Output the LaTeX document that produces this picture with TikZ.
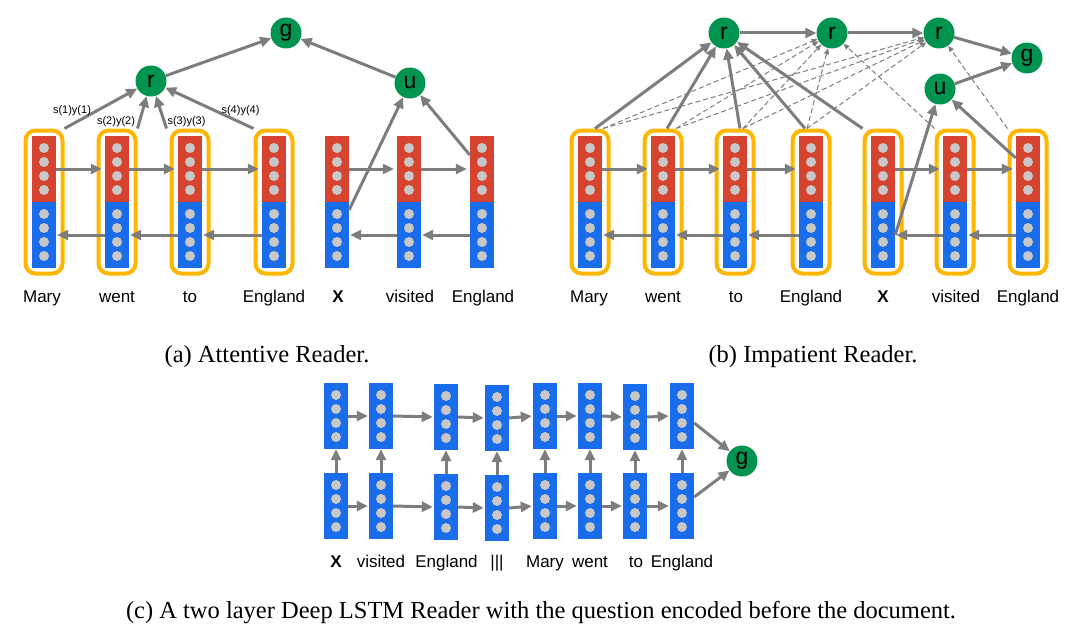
\documentclass[tikz,border=0pt]{standalone}
\usepackage{fontspec}
\setmainfont{Liberation Serif}
\newfontfamily\lsans{Liberation Sans}
\usetikzlibrary{arrows.meta}
\definecolor{colred}{RGB}{214,68,48}
\definecolor{colblue}{RGB}{25,108,234}
\definecolor{colgreen}{RGB}{0,148,80}
\definecolor{colyel}{RGB}{255,182,0}
\definecolor{colarr}{RGB}{125,125,125}
\definecolor{coldot}{RGB}{200,200,200}
\newcommand{\halfcol}[4]{%
  \node[#4] (#1) at (#2,#3) {};
  \foreach \ddy in {-21,-7,7,21}{\fill[coldot] (#2,#3+\ddy) circle[radius=5];}}
\newcommand{\fullcol}[3]{%
  \halfcol{#1r}{#2}{#3-33}{redpart}%
  \halfcol{#1b}{#2}{#3+33}{bluepart}}
\tikzset{
  redpart/.style={rectangle, fill=colred, minimum width=24, minimum height=66, inner sep=0, draw=none},
  bluepart/.style={rectangle, fill=colblue, minimum width=24, minimum height=66, inner sep=0, draw=none},
  ybox/.style={rectangle, draw=colyel, line width=4pt, rounded corners=10pt, minimum width=37, minimum height=143, inner sep=0},
  gnode/.style={circle, fill=colgreen, minimum size=31, inner sep=0, font=\lsans\fontsize{23}{23}\selectfont},
  arr/.style={draw=colarr, line width=3pt, -{Triangle[length=11pt,width=10pt]}},
  dsh/.style={draw=colarr, line width=1pt, dash pattern=on 5pt off 3pt, -{Triangle[length=6pt,width=5pt]}},
  lbl/.style={anchor=base, inner sep=0, font=\lsans\fontsize{17}{20}\selectfont},
  blbl/.style={anchor=base, inner sep=0, font=\lsans\bfseries\fontsize{17}{20}\selectfont},
  slbl/.style={anchor=base, inner sep=0, font=\lsans\fontsize{11}{13}\selectfont},
  captxt/.style={anchor=base, inner sep=0, font=\fontsize{24.5}{28}\selectfont}
}
\begin{document}
\begin{tikzpicture}[x=1pt,y=-1pt]
\useasboundingbox (0,0) rectangle (1083,626);
% ================= panel (a)
\node[ybox] (ya1) at (44,202) {};
\node[ybox] (ya2) at (117,202) {};
\node[ybox] (ya3) at (190,202) {};
\node[ybox] (ya4) at (274,202) {};
\fullcol{a1}{44}{202}
\fullcol{a2}{117}{202}
\fullcol{a3}{190}{202}
\fullcol{a4}{274}{202}
\fullcol{qa1}{337}{202}
\fullcol{qa2}{409}{202}
\fullcol{qa3}{482}{202}
\draw[arr, shorten >=3pt] (a1r.east) -- (a2r.west);
\draw[arr, shorten >=3pt] (a2r.east) -- (a3r.west);
\draw[arr, shorten >=3pt] (a3r.east) -- (a4r.west);
\draw[arr, shorten >=1pt] (a2b.west) -- (a1b.east);
\draw[arr, shorten >=1pt] (a3b.west) -- (a2b.east);
\draw[arr, shorten >=1pt] (a4b.west) -- (a3b.east);
\draw[arr, shorten >=3pt] (qa1r.east) -- (qa2r.west);
\draw[arr, shorten >=3pt] (qa2r.east) -- (qa3r.west);
\draw[arr, shorten >=1pt] (qa2b.west) -- (qa1b.east);
\draw[arr, shorten >=1pt] (qa3b.west) -- (qa2b.east);
\node[gnode] (ra) at (151,81) {r};
\node[gnode] (ga) at (286,33) {g};
\node[gnode] (ua) at (410,83) {u};
\draw[arr] (ra) -- (ga);
\draw[arr] (ua) -- (ga);
\draw[arr] (ya1.north east) -- (ra);
\draw[arr] (ya2.north east) -- (ra);
\draw[arr] ([xshift=-3pt]ya3.north west) -- (ra);
\draw[arr] (ya4.north west) -- (ra);
\draw[arr] ([yshift=-8pt]qa1b.north east) -- (ua);
\draw[arr] ([yshift=14pt]qa3r.west) -- (ua);
\node[slbl] (s1) at (72,113) {s(1)y(1)};
\node[slbl] (s2) at (116,124) {s(2)y(2)};
\node[slbl] (s3) at (186.5,124) {s(3)y(3)};
\node[slbl] (s4) at (240.5,113) {s(4)y(4)};
\node[lbl] (la1) at (42,302) {Mary};
\node[lbl] (la2) at (117,302) {went};
\node[lbl] (la3) at (190,302) {to};
\node[lbl] (la4) at (274,302) {England};
\node[blbl] (la5) at (338,302) {X};
\node[lbl] (la6) at (410,302) {visited};
\node[lbl] (la7) at (483,302) {England};
% ================= panel (b)
\node[ybox] (yb1) at (590,202) {};
\node[ybox] (yb2) at (663,202) {};
\node[ybox] (yb3) at (735,202) {};
\node[ybox] (yb4) at (811,202) {};
\node[ybox] (yb5) at (883,202) {};
\node[ybox] (yb6) at (955,202) {};
\node[ybox] (yb7) at (1028,202) {};
\fullcol{b1}{590}{202}
\fullcol{b2}{663}{202}
\fullcol{b3}{735}{202}
\fullcol{b4}{811}{202}
\fullcol{b5}{883}{202}
\fullcol{b6}{955}{202}
\fullcol{b7}{1028}{202}
\draw[arr, shorten >=3pt] (b1r.east) -- (b2r.west);
\draw[arr, shorten >=3pt] (b2r.east) -- (b3r.west);
\draw[arr, shorten >=3pt] (b3r.east) -- (b4r.west);
\draw[arr, shorten >=3pt] (b5r.east) -- (b6r.west);
\draw[arr, shorten >=3pt] (b6r.east) -- (b7r.west);
\draw[arr, shorten >=1pt] (b2b.west) -- (b1b.east);
\draw[arr, shorten >=1pt] (b3b.west) -- (b2b.east);
\draw[arr, shorten >=1pt] (b4b.west) -- (b3b.east);
\draw[arr, shorten >=1pt] (b6b.west) -- (b5b.east);
\draw[arr, shorten >=1pt] (b7b.west) -- (b6b.east);
\node[gnode] (r1) at (724,33) {r};
\node[gnode] (r2) at (832,33) {r};
\node[gnode] (r3) at (939,33) {r};
\node[gnode] (gb) at (1027,58) {g};
\node[gnode] (ub) at (940,89) {u};
% dashed attention
\draw[dsh] ([xshift=13pt]yb1.north) -- (r2);
\draw[dsh] ([xshift=13pt]yb2.north) -- (r2);
\draw[dsh] ([xshift=8pt]yb3.north) -- (r2);
\draw[dsh] ([xshift=-4pt]yb4.north) -- (r2);
\draw[dsh] (yb6.north west) -- (r2);
\draw[dsh] ([xshift=13pt]yb1.north) -- (r3);
\draw[dsh] ([xshift=13pt]yb2.north) -- (r3);
\draw[dsh] ([xshift=8pt]yb3.north) -- (r3);
\draw[dsh] ([xshift=-4pt]yb4.north) -- (r3);
\draw[dsh] (yb7.north west) -- (r3);
% solid
\draw[arr] (r1) -- (r2);
\draw[arr] (r2) -- (r3);
\draw[arr] (r3) -- (gb);
\draw[arr] (ub) -- (gb);
\draw[arr] ([xshift=5pt]yb1.north) -- (r1);
\draw[arr] ([xshift=4pt]yb2.north) -- (r1);
\draw[arr] ([xshift=5pt]yb3.north) -- (r1);
\draw[arr] ([xshift=-6pt]yb4.north) -- (r1);
\draw[arr] (yb5.north west) -- (r1);
\draw[arr] (b5b.east) -- (ub);
\draw[arr] ([yshift=11pt]b7r.west) -- (ub);
\node[lbl] (lb1) at (589,302) {Mary};
\node[lbl] (lb2) at (663,302) {went};
\node[lbl] (lb3) at (736,302) {to};
\node[lbl] (lb4) at (811,302) {England};
\node[blbl] (lb5) at (883,302) {X};
\node[lbl] (lb6) at (956,302) {visited};
\node[lbl] (lb7) at (1028,302) {England};
% ================= panel (c)
\halfcol{c1t}{336}{416}{bluepart}
\halfcol{c1b}{336}{506}{bluepart}
\halfcol{c2t}{381}{416}{bluepart}
\halfcol{c2b}{381}{506}{bluepart}
\halfcol{c3t}{446}{417}{bluepart}
\halfcol{c3b}{446}{507}{bluepart}
\halfcol{c4t}{497}{418}{bluepart}
\halfcol{c4b}{497}{508}{bluepart}
\halfcol{c5t}{545}{416}{bluepart}
\halfcol{c5b}{545}{506}{bluepart}
\halfcol{c6t}{590}{416}{bluepart}
\halfcol{c6b}{590}{506}{bluepart}
\halfcol{c7t}{635}{417}{bluepart}
\halfcol{c7b}{635}{506}{bluepart}
\halfcol{c8t}{682}{416}{bluepart}
\halfcol{c8b}{682}{506}{bluepart}
\foreach \i in {1,...,8}{\draw[arr] (c\i b.north) -- (c\i t.south);}
\foreach \i/\j in {1/2,2/3,3/4,4/5,5/6,6/7,7/8}{
  \draw[arr, shorten >=1pt] (c\i t.east) -- (c\j t.west);
  \draw[arr, shorten >=1pt] (c\i b.east) -- (c\j b.west);}
\node[gnode] (gc) at (742,461) {g};
\draw[arr] ([yshift=-7pt]c8t.east) -- (gc);
\draw[arr] ([yshift=9pt]c8b.east) -- (gc);
\node[blbl] (lc1) at (336,567) {X};
\node[lbl] (lc2) at (381,567) {visited};
\node[lbl] (lc3) at (446.5,567) {England};
\node[lbl] (lc4) at (497,567) {|||};
\node[lbl] (lc5) at (545,567) {Mary};
\node[lbl] (lc6) at (590,567) {went};
\node[lbl] (lc7) at (636,567) {to};
\node[lbl] (lc8) at (682,567) {England};
% ================= captions
\node[captxt] (capa) at (267,362) {(a) Attentive Reader.};
\node[captxt] (capb) at (813,362) {(b) Impatient Reader.};
\node[captxt] (capc) at (541,618) {(c) A two layer Deep LSTM Reader with the question encoded before the document.};
\end{tikzpicture}
\end{document}
